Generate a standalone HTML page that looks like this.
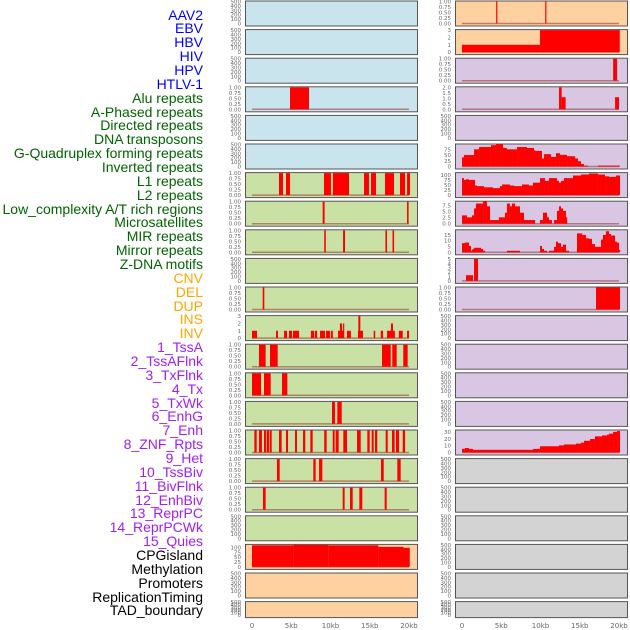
<!DOCTYPE html>
<html><head><meta charset="utf-8"><style>
html,body{margin:0;padding:0;background:#fff;width:630px;height:630px;overflow:hidden}
.lab{position:absolute;right:427px;font-family:"Liberation Sans",sans-serif;font-size:14px;line-height:14px;white-space:nowrap}
</style></head><body>
<div id="labels"></div>
<svg id="chart" width="630" height="630" style="position:absolute;left:0;top:0" xmlns="http://www.w3.org/2000/svg"></svg>
<script>
// ---- data ----
const trackNames = ["AAV2","EBV","HBV","HIV","HPV","HTLV-1","Alu repeats","A-Phased repeats","Directed repeats","DNA transposons","G-Quadruplex forming repeats","Inverted repeats","L1 repeats","L2 repeats","Low_complexity A/T rich regions","Microsatellites","MIR repeats","Mirror repeats","Z-DNA motifs","CNV","DEL","DUP","INS","INV","1_TssA","2_TssAFlnk","3_TxFlnk","4_Tx","5_TxWk","6_EnhG","7_Enh","8_ZNF_Rpts","9_Het","10_TssBiv","11_BivFlnk","12_EnhBiv","13_ReprPC","14_ReprPCWk","15_Quies","CPGisland","Methylation","Promoters","ReplicationTiming","TAD_boundary"];
const trackGroups = ["v","v","v","v","v","v","r","r","r","r","r","r","r","r","r","r","r","r","r","c","c","c","c","c","s","s","s","s","s","s","s","s","s","s","s","s","s","s","s","o","o","o","o","o"];
const xTicks = [0,5,10,15,20];
const xTickLabels = ["0","5kb","10kb","15kb","20kb"];
// left column segments [startKb, endKb, value]
const aluSeg = [[4.84,7.26,1]];
const l1Seg = [[3.44,3.95,1],[4.33,4.84,1],[9.17,10.06,1],[10.3,12.36,1],[14.27,14.9,1],[15.16,15.8,1],[16.94,18.09,1],[18.85,19.5,1],[19.75,20.13,1]];
const lowcSeg = [[9.0,9.25,1],[19.75,19.95,1]];
const mirSeg = [[9.2,9.4,1],[11.6,11.85,1],[17.0,17.2,1],[17.9,18.1,1]];
const row10Seg = [[1.36,1.57,1]];
const insSeg = [[0,0.64,1],[3.06,3.31,1],[4.08,4.46,1],[4.71,5.1,1],[5.22,5.99,1],[7.5,7.9,1],[8.0,8.3,1],[8.66,9.3,1],[9.43,9.94,1],[10.06,10.3,1],[10.96,11.72,1],[11.2,11.47,2],[11.6,11.72,2],[12.1,12.6,1],[13.5,14.14,1],[13.55,13.8,3],[15.5,15.7,1],[16.4,16.7,1],[17.2,18.2,1],[17.7,17.96,2],[18.7,19.2,1],[19.75,20.0,1]];
const tssaSeg = [[0.89,1.74,1],[2.29,3.27,1],[16.56,17.67,1],[17.87,18.43,1],[19.27,19.83,1]];
const tssflSeg = [[0,1.15,1],[1.53,2.38,1],[3.82,4.5,1]];
const txSeg = [[10.19,10.57,1],[10.87,11.43,1]];
const enhSeg = [[0.3,0.6,1],[0.89,1.27,1],[1.53,1.78,1],[1.87,2.17,1],[2.26,2.51,1],[3.44,3.78,1],[4.33,4.59,1],[5.48,5.73,1],[6.5,6.79,1],[7.43,7.73,1],[9.2,9.51,1],[10.28,10.53,1],[10.66,11.04,1],[11.63,12.1,1],[13.38,13.85,1],[14.69,14.99,1],[15.25,15.5,1],[15.67,15.96,1],[17.03,17.29,1],[17.83,18.17,1],[18.34,18.73,1],[19.2,19.5,1]];
const hetSeg = [[3.18,3.53,1],[7.81,8.11,1],[8.54,8.96,1],[16.43,16.78,1],[18.51,18.94,1]];
const bivSeg = [[1.4,1.74,1],[11.55,11.8,1],[12.48,12.83,1],[13.67,14.05,1],[16.9,17.16,1]];
const cpgSeg = [[0,5.3,111],[5.3,9.7,113],[9.7,16.1,111],[16.1,19.3,103],[19.3,20.1,98]];
// right column
const aav2Seg = [[4.35,4.5,1],[10.6,10.75,1]];
const ebvSeg = [[0,9.94,1],[9.94,20.1,3]];
const hbvSeg = [[19.25,19.75,1]];
const hivSeg = [[12.36,12.7,2],[12.7,13.2,1.1],[19.5,20.0,1.1]];
const gq_edges = [0,0.25,1.53,2.17,3.69,4.33,5.22,5.73,7.01,8.28,9.17,9.30,10.19,10.45,11.34,11.97,12.48,13.38,14.39,14.78,15.16,15.54,16.05,17.32,20.13];
const gq_vals = [40,50,75,85,93,98,81,75,85,81,71,68,35,54,42,58,51,45,35,23,11,4,0,4];
const inv_edges = [0,0.25,0.51,0.89,1.66,1.91,2.80,3.95,4.84,5.10,6.11,6.62,7.64,8.54,9.04,9.94,10.57,11.08,12.10,12.36,12.61,12.99,14.14,15.16,16.18,17.32,18.22,18.73,19.62,20.13];
const inv_vals = [85,76,79,76,48,45,39,35,45,53,48,45,53,48,62,85,71,85,71,62,71,85,98,103,108,103,94,91,98];
const l1r_edges = [0,0.64,1.27,1.53,1.78,2.68,3.18,3.57,4.71,5.48,5.73,6.11,6.37,6.75,7.39,7.90,9.30,9.94,10.32,10.83,11.08,11.46,11.72,12.10,12.36,12.61,12.87,13.25,13.38];
const l1r_vals = [3.4,2.6,3.4,6.25,8.25,9.25,7.1,1.5,2.6,4.5,8.25,7.1,8.25,7.1,4.5,1.5,0,1.5,4.5,2.6,1.5,0,1.5,5.25,7.1,6.25,5.25,2.6];
const l2r_edges = [0,0.38,0.89,1.15,1.27,1.40,1.53,2.42,2.68,2.93,5.73,7.39,9.94,10.19,10.45,10.83,11.08,11.72,11.97,12.23,12.61,12.87,13.25,13.63,14.65,15.29,15.80,16.18,16.56,16.94,17.71,17.96,18.34,18.73,18.98,19.49,19.75,20.0,20.13];
const l2r_vals = [7.9,8.4,5.5,1.3,2.4,2.9,3.9,2.9,1.3,0,1.3,0,5.5,2.9,1.3,0,1.3,4.7,9.2,7.9,4.7,6.6,1.3,0,16.3,15,12.1,11.6,7.1,4.7,11,15,18.2,15.8,14.5,9.2,8.4,2.1];
const lowrSeg = [[0.51,1.4,1.3],[1.53,2.04,5]];
const microSeg = [[17.07,20.13,1]];
const het_edges = [0,0.38,0.89,1.40,9.04,9.94,12.36,12.99,14.52,15.16,15.54,16.31,16.94,17.83,18.47,18.73,19.24,19.75,20.13];
const het_vals = [5.2,6.5,5.2,3.9,5.2,9.1,10.4,11.7,13,14.3,17,19.6,23.5,24.8,26,27.4,30,31.3];

function hist(edges, vals){ const s=[]; for(let i=0;i<vals.length;i++) s.push([edges[i],edges[i+1],vals[i]]); return s; }

const T01=[0,0.25,0.5,0.75,1], T500=[0,100,200,300,400,500];
const BG={lb:"#c9e4ec",g:"#c9e1a5",p:"#ffd0a0",pu:"#d8c6e2",gr:"#d3d3d3"};
// panels: col,row,bg,ymax,ticks,dec,segs,name
const panels = [
 [0,0,"lb",500,T500,0,null,"aav2-left"],[0,1,"lb",500,T500,0,null,"ebv-left"],[0,2,"lb",500,T500,0,null,"hbv-left"],
 [0,3,"lb",1,T01,2,aluSeg,"alu-left"],[0,4,"lb",500,T500,0,null,"hpv-left"],[0,5,"lb",500,T500,0,null,"htlv-left"],
 [0,6,"g",1,T01,2,l1Seg,"l1-left"],[0,7,"g",1,T01,2,lowcSeg,"lowc-left"],[0,8,"g",1,T01,2,mirSeg,"mir-left"],
 [0,9,"g",500,T500,0,null,"zdna-left"],[0,10,"g",1,T01,2,row10Seg,"cnv-left"],[0,11,"g",3,[0,1,2,3],0,insSeg,"ins-left"],
 [0,12,"g",1,T01,2,tssaSeg,"tssa-left"],[0,13,"g",1,T01,2,tssflSeg,"tssflnk-left"],[0,14,"g",1,T01,2,txSeg,"tx-left"],
 [0,15,"g",1,T01,2,enhSeg,"enh-left"],[0,16,"g",1,T01,2,hetSeg,"het-left"],[0,17,"g",1,T01,2,bivSeg,"biv-left"],
 [0,18,"g",500,T500,0,null,"quies-left"],[0,19,"p",113,[0,25,50,75,100],0,cpgSeg,"cpg-left"],
 [0,20,"p",500,T500,0,null,"promoters-left"],[0,21,"p",500,T500,0,null,"tad-left"],
 [1,0,"p",1,T01,2,aav2Seg,"aav2-right"],[1,1,"p",3,[0,1,2,3],0,ebvSeg,"ebv-right"],[1,2,"pu",1,T01,2,hbvSeg,"hbv-right"],
 [1,3,"pu",2,[0,0.5,1,1.5,2],1,hivSeg,"hiv-right"],[1,4,"pu",500,T500,0,null,"hpv-right"],
 [1,5,"pu",96,[0,25,50,75],0,hist(gq_edges,gq_vals),"gquad-right"],[1,6,"pu",110,[0,25,50,75,100],0,hist(inv_edges,inv_vals),"inverted-right"],
 [1,7,"pu",9,[0,2.5,5,7.5],1,hist(l1r_edges,l1r_vals),"l1-right"],[1,8,"pu",19,[0,5,10,15],0,hist(l2r_edges,l2r_vals),"l2-right"],
 [1,9,"pu",5,[0,1,2,3,4,5],0,lowrSeg,"lowc-right"],[1,10,"pu",1,T01,2,microSeg,"micro-right"],
 [1,11,"pu",500,T500,0,null,"r11"],[1,12,"pu",500,T500,0,null,"r12"],[1,13,"pu",500,T500,0,null,"r13"],[1,14,"pu",500,T500,0,null,"r14"],
 [1,15,"pu",32,[0,10,20,30],0,hist(het_edges,het_vals),"het-right"],
 [1,16,"gr",500,T500,0,null,"r16"],[1,17,"gr",500,T500,0,null,"r17"],[1,18,"gr",500,T500,0,null,"r18"],[1,19,"gr",500,T500,0,null,"r19"],[1,20,"gr",500,T500,0,null,"r20"],[1,21,"gr",500,T500,0,null,"r21"]
];

const NS="http://www.w3.org/2000/svg", svg=document.getElementById('chart');
function mk(tag,attrs,parent){const e=document.createElementNS(NS,tag);for(const k in attrs)e.setAttribute(k,attrs[k]);(parent||svg).appendChild(e);return e;}
const colX=[245,455], x0=[252,462], kbPx=7.85, PW=172;
function xs(col,kb){return x0[col]+kb*kbPx;}

panels.forEach(p=>{
  const [col,row,bg,ymax,ticks,dec,segs,name]=p;
  const top=0.5+row*28.6, H=row===21?16:25;
  const yb=top+H-2, yr=H-3;
  const ys=v=>yb-v/ymax*yr;
  const g=mk('g',{});
  
  
  const r=mk('rect',{x:colX[col]+0.5,y:top+0.5,width:PW,height:H,fill:BG[bg],stroke:"#555","stroke-width":1},g);
  
  
  if(segs){
    const bl=mk('line',{x1:xs(col,0),x2:xs(col,20),y1:yb,y2:yb,stroke:"#a04040","stroke-width":1.5,"stroke-opacity":0.6},g);
    
    
    segs.forEach(s=>{
      if(s[2]<=0) return;
      const x1=xs(col,s[0]), x2=xs(col,s[1]);
      const b=mk('rect',{x:x1,y:ys(s[2]),width:Math.max(1.2,x2-x1),height:yb-ys(s[2]),fill:"#ff0000"},g);
      
      
    });
  }
  ticks.forEach(t=>{
    const tx=mk('text',{x:colX[col]-4,y:ys(t)+2,"text-anchor":"end","font-family":"DejaVu Sans, sans-serif","font-size":5.5,fill:"#666"},g);
    tx.textContent=t.toFixed(dec);
    
    
  });
});
[0,1].forEach(col=>{
  xTicks.forEach((t,i)=>{
    const tx=mk('text',{x:xs(col,t),y:628,"text-anchor":"middle","font-family":"DejaVu Sans, sans-serif","font-size":7,fill:"#666"});
    tx.textContent=xTickLabels[i];
    
    
  });
});
const COLORS={v:"#0000ff",r:"#006400",c:"#ffa500",s:"#a020f0",o:"#000000"};
const labs=document.getElementById('labels');
trackNames.forEach((n,i)=>{
  const d=document.createElement('div');
  d.className='lab';
  d.style.top=(15+i*13.86-7.5)+'px';
  d.style.color=COLORS[trackGroups[i]];
  d.textContent=n;
  
  
  labs.appendChild(d);
});
</script>
</body></html>
